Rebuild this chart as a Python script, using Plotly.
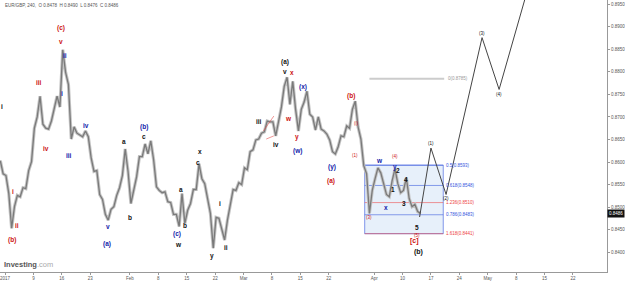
import plotly.graph_objects as go

# ---------------- data ----------------
# price samples: x in 4-hour bars since 2 Jan 2017 (start, every 3 bars)
bar_start = -5
bar_step = 3
prices = [0.8603,0.8574,0.8570,0.8530,0.8453,0.8501,0.8526,0.8523,0.8543,0.8541,
          0.8581,0.8601,0.8675,0.8700,0.8746,0.8684,0.8675,0.8673,0.8691,0.8717,
          0.8746,0.8722,0.8849,0.8799,0.8772,0.8651,0.8678,0.8664,0.8660,0.8656,
          0.8669,0.8656,0.8609,0.8579,0.8581,0.8528,0.8517,0.8484,0.8471,0.8495,
          0.8501,0.8526,0.8543,0.8570,0.8629,0.8579,0.8508,0.8537,0.8567,0.8612,
          0.8612,0.8640,0.8618,0.8647,0.8605,0.8545,0.8537,0.8532,0.8534,0.8512,
          0.8510,0.8484,0.8484,0.8457,0.8530,0.8464,0.8493,0.8508,0.8539,0.8539,
          0.8596,0.8563,0.8552,0.8519,0.8486,0.8409,0.8477,0.8475,0.8449,0.8427,
          0.8471,0.8508,0.8539,0.8537,0.8554,0.8550,0.8587,0.8583,0.8623,0.8627,
          0.8649,0.8651,0.8664,0.8667,0.8691,0.8689,0.8689,0.8658,0.8691,0.8722,
          0.8768,0.8788,0.8728,0.8779,0.8717,0.8669,0.8717,0.8733,0.8757,0.8706,
          0.8700,0.8671,0.8700,0.8673,0.8669,0.8662,0.8649,0.8623,0.8618,0.8634,
          0.8658,0.8656,0.8680,0.8675,0.8717,0.8735,0.8678,0.8651,0.8592,0.8574,
          0.8486,0.8537,0.8563,0.8587,0.8576,0.8554,0.8528,0.8523,0.8559,0.8585,
          0.8552,0.8532,0.8537,0.8565,0.8519,0.8501,0.8506,0.8490,0.8486]
last_price = 0.8486

# projected wave path
proj_bars = [438, 450, 466, 504, 522, 562]
proj_prices = [0.8478, 0.8631, 0.8528, 0.8876, 0.8761, 0.9055]
proj_labels = [("(1)", 450, 0.8641), ("(2)", 466, 0.8518), ("(3)", 504, 0.8886), ("(4)", 522, 0.8749)]

# fibonacci box
fib_x = [380, 463]
fib_levels = [0.8593, 0.8548, 0.8510, 0.8483, 0.8441]
fib_names = ["0.5", "0.618", "1.236", "0.786", "1.618"]
fib_colors = ["#3355dd", "#3355dd", "#ee4444", "#3355dd", "#ee4444"]
ref_level = 0.8785
ref_x = [385, 464]

# red trend line segments
red_segments = [((273, 0.8669), (284, 0.8702)), ((276, 0.8651), (284, 0.8658))]

# x-axis ticks: trading day index * 6 bars
tick_days = [0, 5, 10, 15, 22, 27, 32, 37, 42, 47, 52, 57, 65, 70, 75, 80, 85, 90, 95, 100]
tick_text = ["2017", "9", "16", "23", "Feb", "8", "15", "22", "Mar", "8", "15", "22",
             "Apr", "10", "17", "24", "May", "8", "15", "22"]

# wave labels (text, bar, price)
red_labels = [("(c)", 59, 0.8898), ("v", 59, 0.8867), ("iii", 36, 0.8776), ("iv", 43, 0.8629),
              ("i", 8, 0.8534), ("ii", 13, 0.8459), ("(b)", 7, 0.8426), ("x", 303, 0.8799),
              ("w", 300, 0.8697), ("y", 309, 0.8656), ("(b)", 366, 0.8746), ("(a)", 344, 0.8559)]
red_small = [("(i)", 371, 0.8686), ("(1)", 370, 0.8614), ("(3)", 385, 0.8477),
             ("(4)", 412, 0.8612), ("(5)", 435, 0.8436)]
blue_labels = [("ii", 63, 0.8836), ("i", 60, 0.8752), ("iv", 86, 0.8680), ("iii", 68, 0.8614),
               ("v", 109, 0.8457), ("(a)", 108, 0.8418), ("(b)", 147, 0.8678), ("(c)", 182, 0.8440),
               ("(x)", 315, 0.8766), ("(w)", 309, 0.8625), ("(y)", 345, 0.8589),
               ("w", 396, 0.8603), ("y", 412, 0.8589), ("x", 403, 0.8499)]
black_labels = [("i", -3, 0.8724), ("a", 126, 0.8645), ("b", 132, 0.8477), ("c", 147, 0.8656),
                ("a", 186, 0.8539), ("b", 190, 0.8459), ("w", 183, 0.8418), ("x", 206, 0.8623),
                ("c", 204, 0.8598), ("i", 227, 0.8508), ("ii", 233, 0.8411), ("y", 219, 0.8391),
                ("iii", 268, 0.8689), ("iv", 286, 0.8640), ("(a)", 296, 0.8823), ("v", 296, 0.8801),
                ("2", 415, 0.8581), ("4", 424, 0.8561), ("1", 410, 0.8539), ("3", 421, 0.8508),
                ("5", 435, 0.8455)]
end_labels = [("[c]", 433, 0.8425, "#cc1111"), ("(b)", 437, 0.8401, "#111111")]

title_text = "EUR/GBP, 240,  O 0.8478  H 0.8490  L 0.8476  C 0.8486"

# ---------------- figure ----------------
RED = "#cc1111"
BLUE = "#1122aa"
BLACK = "#111111"
FONT = "Arial, Liberation Sans, sans-serif"

x_prices = [bar_start + bar_step * i for i in range(len(prices))]

fig = go.Figure()

# fib box fill
fig.add_shape(type="rect", x0=fib_x[0], x1=fib_x[1], y0=min(fib_levels), y1=max(fib_levels),
              fillcolor="rgba(70,140,220,0.13)", line=dict(color="rgba(51,85,221,0.6)", width=1),
              layer="below")
for lvl, name, col in zip(fib_levels, fib_names, fib_colors):
    fig.add_shape(type="line", x0=fib_x[0], x1=fib_x[1], y0=lvl, y1=lvl,
                  line=dict(color=col, width=1), opacity=0.55, layer="below")
    fig.add_annotation(x=fib_x[1] + 1, y=lvl, text=f"{name}({lvl:.4f})", showarrow=False,
                       xanchor="left", yanchor="middle", font=dict(size=4.5, color=col, family=FONT))

# reference level
fig.add_shape(type="line", x0=ref_x[0], x1=ref_x[1], y0=ref_level, y1=ref_level,
              line=dict(color="#cccccc", width=2))
fig.add_annotation(x=ref_x[1] + 2, y=ref_level, text=f"0({ref_level:.4f})", showarrow=False,
                   xanchor="left", yanchor="middle", font=dict(size=4.5, color="#999999", family=FONT))

for (a, b) in red_segments:
    fig.add_shape(type="line", x0=a[0], y0=a[1], x1=b[0], y1=b[1],
                  line=dict(color="rgba(230,80,80,0.6)", width=1))

# price: soft band + darker line
fig.add_trace(go.Scatter(x=x_prices, y=prices, mode="lines",
                         line=dict(color="#c4c4c4", width=3.2), hoverinfo="skip"))
fig.add_trace(go.Scatter(x=x_prices, y=prices, mode="lines",
                         line=dict(color="#7a7a7a", width=1.3), hoverinfo="skip"))
# projection
fig.add_trace(go.Scatter(x=proj_bars, y=proj_prices, mode="lines",
                         line=dict(color="#444444", width=1), hoverinfo="skip"))

def add_labels(items, color, size, bold=False):
    for t, xb, yp in items:
        fig.add_annotation(x=xb, y=yp, text=f"<b>{t}</b>" if bold else t, showarrow=False,
                           xanchor="center", yanchor="middle",
                           font=dict(size=size, color=color, family=FONT))

add_labels(red_labels, RED, 6.5, bold=True)
add_labels(red_small, RED, 4.5)
add_labels(blue_labels, BLUE, 6.5, bold=True)
add_labels(black_labels, BLACK, 6.5, bold=True)
add_labels(proj_labels, BLACK, 4.5)
for t, xb, yp, c in end_labels:
    fig.add_annotation(x=xb, y=yp, text=f"<b>{t}</b>", showarrow=False,
                       font=dict(size=7, color=c, family=FONT))

# title
fig.add_annotation(xref="paper", yref="paper", x=0.005, y=0.995, text=title_text, showarrow=False,
                   xanchor="left", yanchor="top", font=dict(size=4.5, color="#555555", family=FONT))
# watermark
fig.add_annotation(xref="paper", yref="paper", x=0.004, y=0.005,
                   text="<b>Investing</b><span style='color:#aaaaaa'>.com</span>", showarrow=False,
                   xanchor="left", yanchor="bottom", font=dict(size=7.5, color="#555555", family=FONT))
# last price tag
fig.add_annotation(xref="paper", x=1.0, y=last_price, text=f"{last_price:.4f}", showarrow=False,
                   xanchor="left", yanchor="middle", bgcolor="#111111",
                   font=dict(size=4.5, color="#ffffff", family=FONT), borderpad=1)

fig.update_layout(
    width=625, height=281,
    margin=dict(l=0, r=14, t=0, b=7),
    paper_bgcolor="white", plot_bgcolor="white",
    showlegend=False,
    xaxis=dict(range=[-5.3, 636], tickvals=[d * 6 for d in tick_days], ticktext=tick_text,
               showgrid=False, zeroline=False, showline=True, linecolor="#999999", linewidth=1,
               ticks="outside", ticklen=2, tickcolor="#999999",
               tickfont=dict(size=4.5, color="#555555", family=FONT)),
    yaxis=dict(range=[0.8356, 0.89595], side="right", dtick=0.005, tick0=0.84,
               tickformat=".4f", showgrid=False, zeroline=False, showline=True,
               linecolor="#999999", linewidth=1, ticks="outside", ticklen=2, tickcolor="#999999",
               tickfont=dict(size=4.5, color="#555555", family=FONT)),
)

fig.write_html("out.html", config={"displayModeBar": False})
